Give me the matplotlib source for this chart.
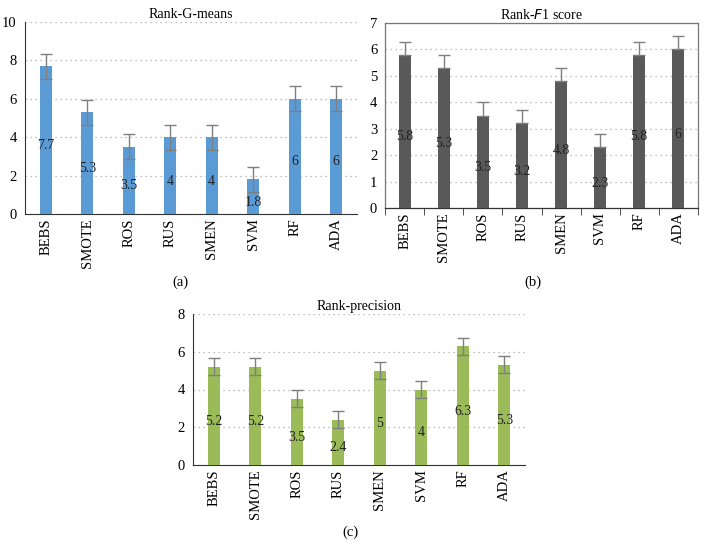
import matplotlib
matplotlib.use("Agg")
import matplotlib.pyplot as plt
import numpy as np

plt.rcParams['font.family'] = ['Liberation Serif', 'DejaVu Serif']

categories = ["BEBS", "SMOTE", "ROS", "RUS", "SMEN", "SVM", "RF", "ADA"]
gmeans = [7.7, 5.3, 3.5, 4, 4, 1.8, 6, 6]
gmeans_err = [0.65] * 8
f1 = [5.8, 5.3, 3.5, 3.2, 4.8, 2.3, 5.8, 6]
f1_err = [0.5] * 8
precision = [5.2, 5.2, 3.5, 2.4, 5, 4, 6.3, 5.3]
precision_err = [0.45] * 8

W, H = 706, 559
fig = plt.figure(figsize=(W / 100, H / 100), dpi=100)


def axes_px(x0, x1, ytop, ybot):
    return fig.add_axes([x0 / W, 1 - ybot / H, (x1 - x0) / W, (ybot - ytop) / H])


FS_TICK = 10.5
FS_TITLE = 10
FS_VAL = 10
ERRC = "#7f7f7f"


def draw(ax, vals, errs, color, ymax, ystep, title, both=True, boxed=False):
    x = np.arange(len(categories))
    if both:
        yerr = errs
    else:
        yerr = [np.zeros(len(errs)), errs]
    ax.bar(x, vals, width=0.3, color=color, zorder=3,
           yerr=yerr, ecolor=ERRC, capsize=4,
           error_kw=dict(elinewidth=1.0, capthick=1.0, zorder=4))
    for xi, v in zip(x, vals):
        ax.annotate(f"{v:g}", (xi, v / 2), xytext=(0, -4), textcoords="offset points",
                    ha="center", va="center", fontsize=FS_VAL, color="#222222", zorder=5)
    ax.set_xlim(-0.5, len(categories) - 0.5)
    ax.set_ylim(0, ymax)
    ax.set_yticks(np.arange(0, ymax + 0.01, ystep))
    ax.set_xticks(x)
    ax.set_xticklabels(categories, rotation=90, fontsize=FS_TICK)
    ax.tick_params(axis="y", length=0, labelsize=FS_TICK, pad=6)
    ax.yaxis.grid(True, linestyle=(0, (1, 3)), color="#aaaaaa", linewidth=0.9, zorder=0)
    ax.set_axisbelow(True)
    if boxed:
        for s in ax.spines.values():
            s.set_color("#777777")
            s.set_linewidth(0.9)
        ax.spines["bottom"].set_color("#333333")
        ax.set_xticks(np.arange(-0.5, len(categories) + 0.5), minor=True)
        ax.tick_params(axis="x", which="major", length=0, pad=3)
        ax.tick_params(axis="x", which="minor", length=5, direction="out", color="#333333")
    else:
        ax.spines["top"].set_visible(False)
        ax.spines["right"].set_visible(False)
        ax.spines["left"].set_color("#333333")
        ax.spines["bottom"].set_color("#333333")
        ax.tick_params(axis="x", length=0, pad=3)
    ax.set_title(title, fontsize=FS_TITLE, pad=3)


ax_a = axes_px(25, 357, 22, 214)
draw(ax_a, gmeans, gmeans_err, "#5B9BD5", 10, 2, "Rank-G-means")

ax_b = axes_px(385.5, 697.5, 23, 208)
draw(ax_b, f1, f1_err, "#595959", 7, 1, "Rank-$\\mathit{F}$1 score", both=False, boxed=True)

ax_c = axes_px(193, 525, 314, 465)
draw(ax_c, precision, precision_err, "#9BBB59", 8, 2, "Rank-precision")

fig.text(180 / W, 1 - 282 / H, "(a)", ha="center", va="center", fontsize=10.5)
fig.text(533 / W, 1 - 282 / H, "(b)", ha="center", va="center", fontsize=10.5)
fig.text(350 / W, 1 - 532 / H, "(c)", ha="center", va="center", fontsize=10.5)

fig.savefig("out.png", dpi=100)
